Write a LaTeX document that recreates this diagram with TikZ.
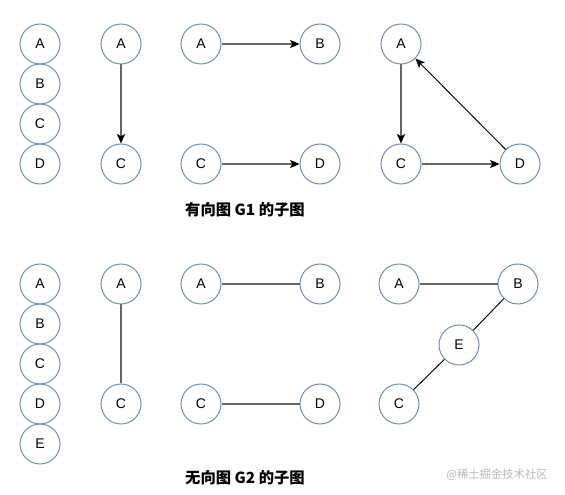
\documentclass[tikz,border=0pt]{standalone}
\usepackage{fontspec}
\setmainfont{Liberation Sans}
\newfontfamily\cjk{Noto Sans CJK SC}
\definecolor{grafoBorde}{HTML}{6C8EBF}
\definecolor{grafoLinea}{HTML}{666666}
\definecolor{grafoMarca}{HTML}{B8B8B8}
\usetikzlibrary{arrows.meta}
\tikzset{
	vertice/.style={
		circle,
		draw=grafoBorde,
		line width=0.75pt,
		minimum size=30pt,
		inner sep=0pt,
		font=\fontsize{10.5}{12}\selectfont
	},
	arista/.style={
		draw=grafoLinea,
		line width=1.1pt
	},
	aristaFina/.style={
		draw=black,
		line width=0.7pt
	},
	punta/.style={
		-{Stealth[length=7pt,width=6pt,inset=1.5pt,color=black]}
	},
	titulo/.style={
		font=\cjk\bfseries\fontsize{11.5}{13}\selectfont
	}
}

\begin{document}
\begin{tikzpicture}[x=0.75pt,y=-0.75pt]
		\useasboundingbox (0,0) rectangle (565,495);
		% dirigido G1
		\node[vertice] (a1) at (40,44) {A};
		\node[vertice] (b1) at (40,84) {B};
		\node[vertice] (c1) at (40,124) {C};
		\node[vertice] (d1) at (40,164) {D};
		\node[vertice] (a2) at (121,44) {A};
		\node[vertice] (c2) at (121,164) {C};
		\node[vertice] (a3) at (201,44) {A};
		\node[vertice] (b3) at (320,44) {B};
		\node[vertice] (c3) at (201,164) {C};
		\node[vertice] (d3) at (320,164) {D};
		\node[vertice] (a4) at (401,44) {A};
		\node[vertice] (c4) at (401,164) {C};
		\node[vertice] (d4) at (520,164) {D};
		\draw[arista, punta] (a2) -- (c2);
		\draw[arista, punta] (a3) -- (b3);
		\draw[arista, punta] (c3) -- (d3);
		\draw[arista, punta] (a4) -- (c4);
		\draw[arista, punta] (c4) -- (d4);
		\draw[aristaFina, punta] (d4) -- (a4);
		\node[titulo] (t1) at (245,210) {有向图 G1 的子图};
		% no dirigido G2
		\node[vertice] (a5) at (40,284) {A};
		\node[vertice] (b5) at (40,324) {B};
		\node[vertice] (c5) at (40,364) {C};
		\node[vertice] (d5) at (40,404) {D};
		\node[vertice] (e5) at (40,444) {E};
		\node[vertice] (a6) at (121,284) {A};
		\node[vertice] (c6) at (121,404) {C};
		\node[vertice] (a7) at (201,284) {A};
		\node[vertice] (b7) at (320,284) {B};
		\node[vertice] (c7) at (201,404) {C};
		\node[vertice] (d7) at (320,404) {D};
		\node[vertice] (a8) at (399,284) {A};
		\node[vertice] (b8) at (518,284) {B};
		\node[vertice] (e8) at (459,345) {E};
		\node[vertice] (c8) at (399,404) {C};
		\draw[arista] (a6) -- (c6);
		\draw[arista] (a7) -- (b7);
		\draw[arista] (c7) -- (d7);
		\draw[arista] (a8) -- (b8);
		\draw[aristaFina] (b8) -- (e8);
		\draw[aristaFina] (e8) -- (c8);
		\node[titulo] (t2) at (245,478) {无向图 G2 的子图};
		\node[font=\cjk\fontsize{8.5}{10}\selectfont, text=grafoMarca] (marca) at (497,475) {@稀土掘金技术社区};
	\end{tikzpicture}
\end{document}
